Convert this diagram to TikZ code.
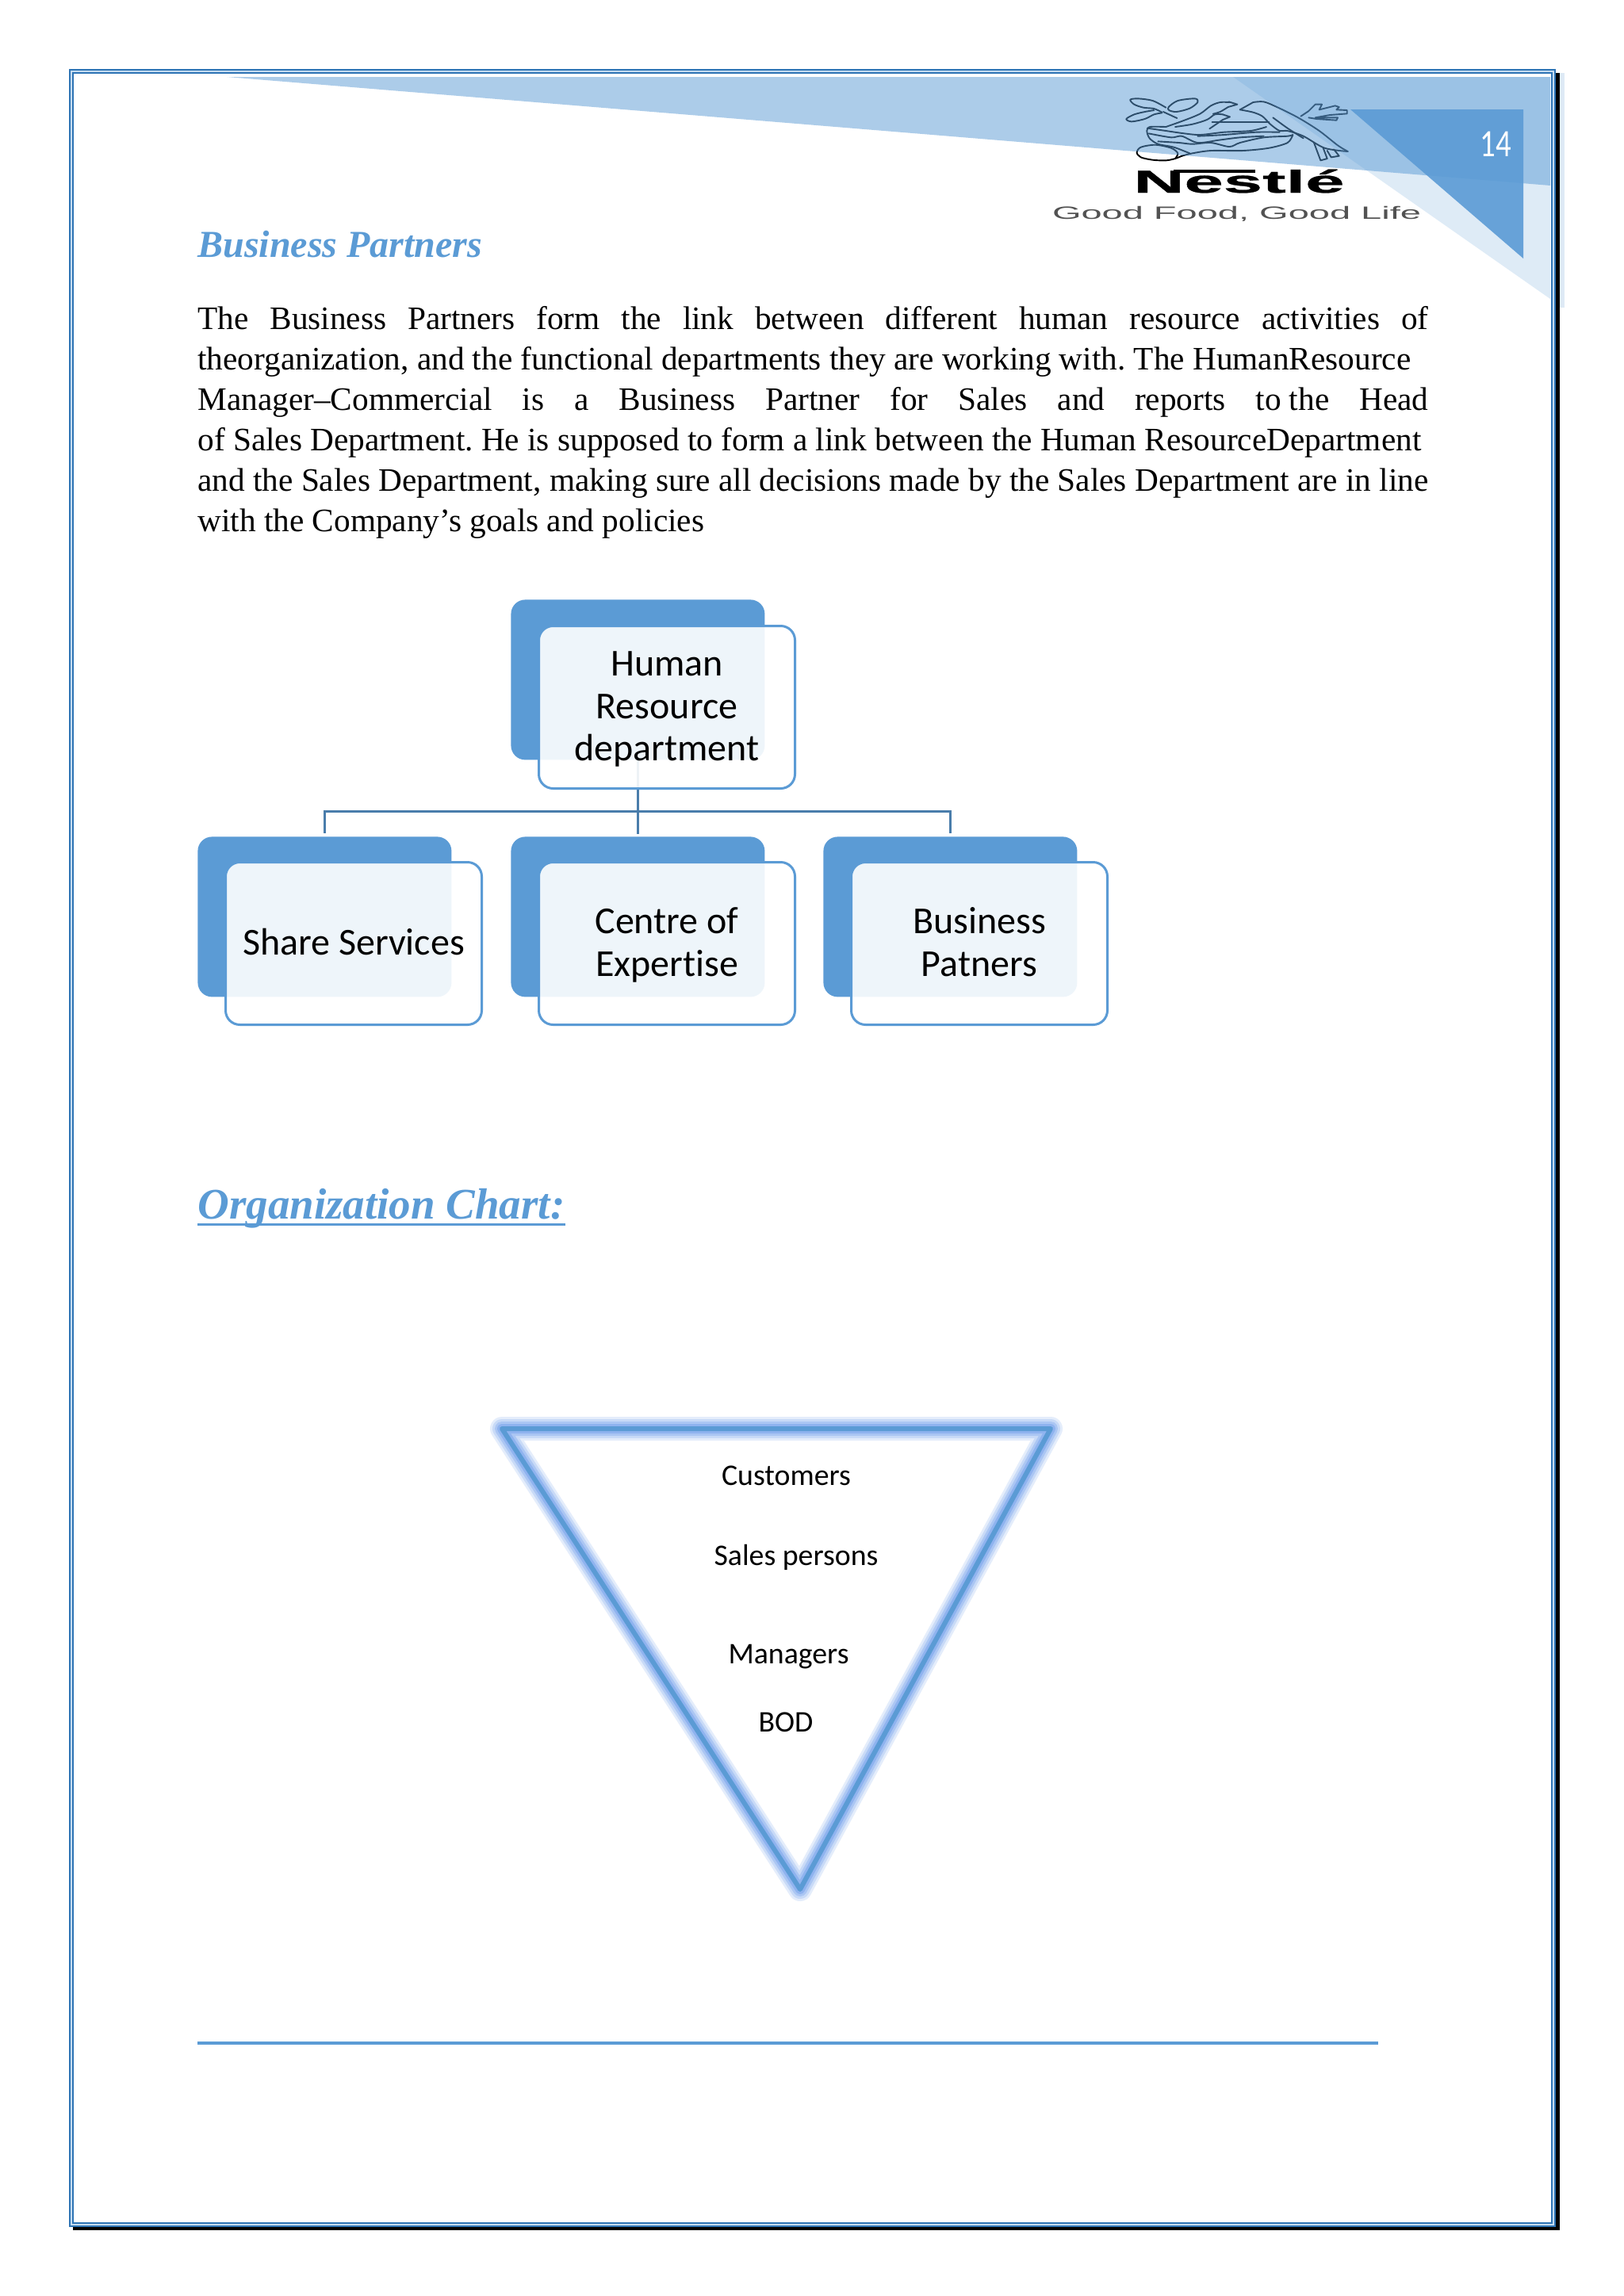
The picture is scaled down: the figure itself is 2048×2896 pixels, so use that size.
\documentclass[tikz,border=0pt]{standalone}
\usepackage{fontspec}
\setmainfont{Liberation Serif}
\newfontfamily\calibrilike[Ligatures=NoCommon]{Carlito}
\newfontfamily\arialbody{Liberation Sans}
\newfontfamily\brandfont[BoldFeatures={FakeBold=0.6}]{Liberation Sans}
\usetikzlibrary{calc}
\AtBeginDocument{\frenchspacing}
\definecolor{accent}{HTML}{5B9BD5}
\definecolor{framecol}{HTML}{2E74B5}
\definecolor{framegap}{HTML}{C5DCF0}
\definecolor{paleblue}{HTML}{DEEAF6}
\definecolor{connect}{HTML}{4A7DAB}
\definecolor{glowblue}{HTML}{5A90EA}
\tikzset{
  bodyline/.style={anchor=base west,inner sep=0pt,font=\fontsize{20.65}{24}\selectfont,text=black},
  headtext/.style={anchor=base west,inner sep=0pt,text=accent,font=\fontsize{24}{28}\selectfont\bfseries\itshape},
  backbox/.style={fill=accent,rounded corners=9pt,minimum width=160pt,minimum height=101pt,inner sep=0pt,anchor=north west},
  frontbox/.style={draw=accent,line width=1.5pt,fill=white,fill opacity=.9,text opacity=1,rounded corners=9pt,minimum width=161.5pt,minimum height=102.5pt,inner sep=0pt,anchor=north west,align=center,font=\calibrilike\fontsize{24}{26.75}\selectfont},
  conn/.style={draw=connect,line width=1.5pt},
  tritext/.style={inner sep=0pt,font=\calibrilike\fontsize{18.9}{22}\selectfont},
  logoline/.style={draw=black,line width=.95pt,line join=round,line cap=round},
}
\begin{document}
\begin{tikzpicture}[x=0.5pt,y=-0.5pt]
\useasboundingbox (0,0) rectangle (2048,2896);
\fill[white] (0,0) rectangle (2048,2896);
% logo (below the translucent corner shapes)
\begin{scope}[x=0.1667pt,y=-0.1667pt,shift={(4230,345)}]
\draw[logoline] plot[smooth] coordinates {(180,62)(130,36)(75,28)(45,32)(60,50)(95,62)(135,66)(165,80)};
\draw[logoline] plot[smooth] coordinates {(135,72)(100,78)(60,88)(30,105)(50,115)(100,105)(135,88)(165,82)};
\draw[logoline] plot[smooth cycle] coordinates {(190,60)(225,36)(290,28)(300,42)(270,65)(220,78)(192,72)};
\draw[logoline] (170,78) -- (222,102);
\draw[logoline] plot[smooth] coordinates {(420,42)(385,42)(350,55)(310,85)(250,110)(180,135)};
\draw[logoline] (418,40) -- (450,50) -- (415,60);
\draw[logoline] plot[smooth] coordinates {(415,60)(385,78)(358,86)};
\draw[logoline] plot[smooth] coordinates {(395,88)(365,88)(335,108)(280,125)(215,135)};
\draw[logoline] (395,88) -- (422,97) -- (395,108);
\draw[logoline] plot[smooth] coordinates {(395,108)(370,125)(345,142)};
\draw[logoline] (355,118) -- (570,118);
\draw[logoline] plot[smooth] coordinates {(510,42)(550,40)(600,60)(680,100)(760,150)(830,205)(868,228)};
\draw[logoline] (510,42) -- (460,70);
\draw[logoline] plot[smooth] coordinates {(460,70)(510,80)(545,95)(575,125)(610,150)(640,150)(700,170)(780,215)(868,228)};
\draw[logoline] plot[smooth] coordinates {(585,100)(640,140)(700,178)};
\draw[logoline] (740,195) -- (765,262) -- (790,255) -- (775,215);
\draw[logoline] (790,225) -- (805,250) -- (835,245) -- (815,220);
\draw[logoline] (690,95) -- (720,75) -- (745,50) -- (770,50) -- (760,70) -- (820,55) -- (835,60) -- (825,70) -- (865,72) -- (865,85) -- (800,90) -- (745,100) -- (830,100) -- (825,110) -- (750,105) -- (720,100);
\draw[logoline] plot[smooth] coordinates {(180,135)(120,135)(108,150)(118,178)(150,200)(210,212)(270,235)};
\draw[logoline] plot[smooth] coordinates {(660,165)(640,195)(570,215)(470,225)(350,225)(280,235)(240,245)};
\draw[logoline] plot[smooth] coordinates {(110,140)(180,150)(250,160)(310,165)(400,155)(500,150)(560,135)};
\draw[logoline] plot[smooth] coordinates {(115,160)(200,175)(240,170)(300,195)(380,185)(460,175)(550,170)};
\draw[logoline] plot[smooth] coordinates {(150,190)(230,195)(280,200)(350,195)(420,210)(460,195)(550,175)(640,170)(660,165)};
\draw[logoline] plot[smooth] coordinates {(300,170)(400,165)(520,155)(610,155)};
\draw[logoline] plot[smooth] coordinates {(240,245)(215,255)(180,262)(130,260)(85,250)(70,232)(85,212)(140,203)(200,215)(225,235)(215,255)};
\end{scope}
\node[inner sep=0pt,anchor=base] (brand) at (1562.5,243) {\brandfont\bfseries\fontsize{20}{22}\selectfont\resizebox{133pt}{\height}{Nestlé}};
\draw[line width=1.6pt] (1480,216) -- (1583,216);
\node[inner sep=0pt,text=black!68] (slogan) at (1559.5,270) {\arialbody\fontsize{11.2}{13}\selectfont\resizebox{232.5pt}{\height}{Good Food, Good Life}};
% corner shapes
\fill[accent,opacity=.5] (286,97) -- (1955,97) -- (1955,234) -- cycle;
\fill[accent,opacity=.2] (1555,97) -- (1955,97) -- (1955,377) -- cycle;
\fill[accent,opacity=.9] (1703,138) -- (1921,138) -- (1921,326) -- cycle;
\node[inner sep=0pt,text=white,font=\calibrilike\fontsize{20}{22}\selectfont] (pagenum) at (1886,182) {\scalebox{.97}[1.22]{14}};
% frame
\fill[paleblue] (1967,92) rectangle (1973,388);
\fill[black] (1962,92) rectangle (1967,2813);
\fill[black] (92,2808) rectangle (1967,2813);
\draw[framecol,line width=3pt] (90,90) rectangle (1959,2806);
\draw[framegap,line width=1pt] (90,90) rectangle (1959,2806);
% text
\node[headtext] (title) at (249,324) {Business Partners};
\node[bodyline] (l1) at (249,415) {\makebox[776pt][s]{The Business Partners form the link between different human resource activities of}};
\node[bodyline] (l2) at (249,466) {\makebox[765pt][s]{theorganization, and the functional departments they are working with. The HumanResource}};
\node[bodyline] (l3) at (249,517) {\makebox[776pt][s]{Manager–Commercial is a Business Partner for Sales and reports to\hspace{5pt}the Head}};
\node[bodyline] (l4) at (249,568) {\makebox[771.5pt][s]{of Sales Department. He is supposed to form a link between the Human ResourceDepartment}};
\node[bodyline] (l5) at (249,619) {\makebox[776pt][s]{and the Sales Department, making sure all decisions made by the Sales Department are in line}};
\node[bodyline] (l6) at (249,670) {with the Company’s goals and policies};
% chart
\node[backbox] (hrback) at (644,756) {};
\node[backbox] (ssback) at (249,1055) {};
\node[backbox] (coeback) at (644,1055) {};
\node[backbox] (bpback) at (1038,1055) {};
\draw[conn] (hrback.south) -- (hrback.south |- 0,1052);
\draw[conn] ($(hrback.south)+(0,65)$) -| ($(ssback.north)+(0,-4)$);
\draw[conn] ($(hrback.south)+(0,65)$) -| ($(bpback.north)+(0,-4)$);
\node[frontbox] (hrfront) at (678,788) {\rule{0pt}{18pt}Human\\Resource\\department};
\node[frontbox] (ssfront) at (283,1086) {Share Services\rule[-2pt]{0pt}{0pt}};
\node[frontbox] (coefront) at (678,1086) {\rule{0pt}{18.5pt}Centre of\\Expertise};
\node[frontbox] (bpfront) at (1072,1086) {Business\\Patners\rule[-2pt]{0pt}{0pt}};
% organization chart heading
\node[headtext,font=\fontsize{27.5}{32}\selectfont\bfseries\itshape] (org) at (249,1537) {Organization Chart:};
\draw[accent,line width=1.5pt] ($(org.base west)+(0,7)$) -- ($(org.base east)+(0,7)$);
% triangle
\foreach \w/\o in {15/.16,12/.2,9/.26,6/.34}{
  \draw[glowblue,line width=\w pt,opacity=\o,line join=round] (633,1802) -- (1325,1802) -- (1009,2383) -- cycle;
}
\draw[accent,line width=3pt,line join=round] (633,1802) -- (1325,1802) -- (1009,2383) -- cycle;
\node[tritext] (customers) at (991.5,1861) {Customers};
\node[tritext] (sales) at (1004,1964) {Sales persons};
\node[tritext] (managers) at (994.5,2089.5) {Managers};
\node[tritext] (bod) at (991,2172) {BOD};
\draw[accent,line width=2.4pt] (249,2577) -- (1738,2577);
\end{tikzpicture}
\end{document}
